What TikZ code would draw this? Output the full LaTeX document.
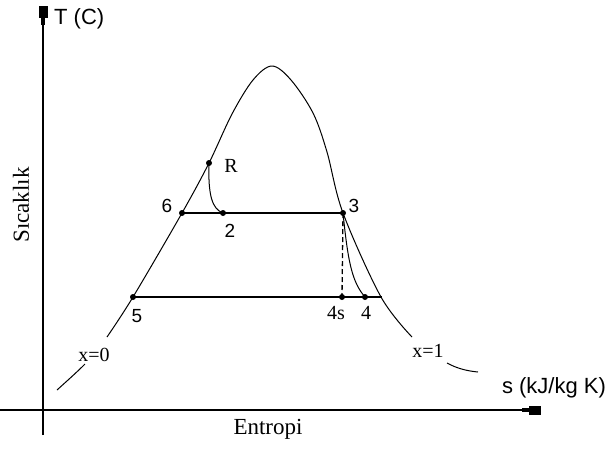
\documentclass[tikz,border=0pt]{standalone}
\usepackage{fontspec}
\setmainfont{Liberation Serif}
\setsansfont{Liberation Sans}
\usetikzlibrary{arrows.meta}
\tikzset{
  axis/.style={line width=1.3pt,-{Rectangle[length=7pt,width=4pt]Rectangle[length=12pt,width=9pt]}},
  curve/.style={line width=1pt},
  proc/.style={line width=1.4pt},
  dot/.style={circle,fill=black,inner sep=0pt,minimum size=6pt},
  sanslbl/.style={font=\sffamily\fontsize{22}{25}\selectfont,inner sep=0pt},
  seriflbl/.style={font=\fontsize{23}{26}\selectfont,inner sep=0pt},
  numlbl/.style={font=\sffamily\fontsize{19}{22}\selectfont,inner sep=0pt},
  qlbl/.style={font=\fontsize{20}{23}\selectfont,inner sep=0pt}
}
\begin{document}
\begin{tikzpicture}[x=1pt,y=-1pt]
\useasboundingbox (0,0) rectangle (612,448);
% axes
\coordinate (yb) at (43,435);
\coordinate (yt) at (43,6);
\coordinate (xl) at (0,410);
\coordinate (xr) at (541,410);
\draw[axis] (yb) -- (yt);
\draw[axis] (xl) -- (xr);
\node[sanslbl,anchor=west] (tl) at (54,19) {T (C)};
\node[sanslbl] (sl) at (554,388) {s (kJ/kg K)};
\node[seriflbl] (en) at (268,429) {Entropi};
\node[seriflbl,rotate=90] (sc) at (21,205) {Sıcaklık};
% state points
\node[dot] (p5) at (133,297) {};
\node[dot] (p6) at (182,213) {};
\node[dot] (pR) at (209,163) {};
\node[dot] (p2) at (223,213) {};
\node[dot] (p3) at (343,213) {};
\node[dot] (p4s) at (342,297) {};
\node[dot] (p4) at (365,297) {};
\coordinate (hend) at (382,297);
% saturation dome
\draw[curve] (57,390) .. controls (68,380) and (76,373) .. (85,364);
\draw[curve] plot[smooth,tension=0.55] coordinates {(107,337) (133,297) (182,213) (209,163) (232,114) (253,80) (272,66) (291,80) (313,113) (327,152) (343,213) (381,297) (412,337)};
\draw[curve] (447,363) .. controls (458,369) and (468,371) .. (478,372);
% process lines
\draw[proc] (p6.center) -- (p3.center);
\draw[proc] (p5.center) -- (hend);
\draw[curve] (pR.center) .. controls (208,195) and (212,209) .. (p2.center);
\draw[curve] (p3.center) .. controls (348,262) and (352,282) .. (p4.center);
\draw[line width=1.3pt,dashed,dash pattern=on 5pt off 3pt] (p3.center) -- (p4s.center);
% labels
\node[qlbl] (lR) at (231,166) {R};
\node[numlbl] (l6) at (167,206) {6};
\node[numlbl] (l2) at (230,231) {2};
\node[numlbl] (l3) at (354,206) {3};
\node[numlbl] (l5) at (137,316) {5};
\node[qlbl] (l4s) at (336,313) {4s};
\node[qlbl] (l4) at (366,313) {4};
\node[qlbl] (lx0) at (94,355) {x=0};
\node[qlbl] (lx1) at (428,351) {x=1};
\end{tikzpicture}
\end{document}
